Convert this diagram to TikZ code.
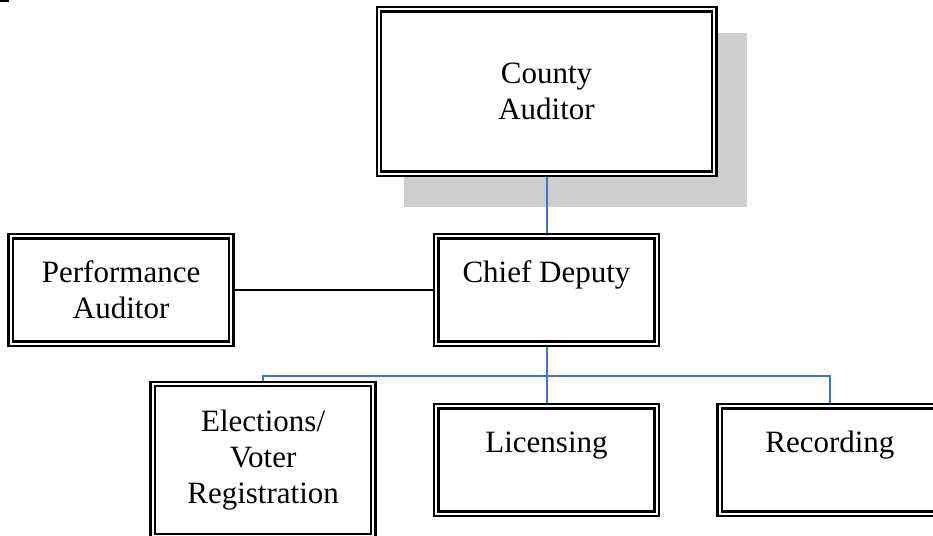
\documentclass[tikz,border=0pt]{standalone}
\usepackage{fontspec}
\setmainfont{Liberation Serif}
\usepackage{xcolor}
\usepackage{tikz}
\usetikzlibrary{positioning,backgrounds}

\definecolor{linkblue}{HTML}{4472C4}
\definecolor{shadowgray}{HTML}{CECECE}
\newcommand{\unitfont}{\fontsize{31}{36}\selectfont}

\begin{document}
\begin{tikzpicture}[
    x=1pt, y=-1pt,
    node distance=62.8pt,
    unit/.style={rectangle, draw, double, double distance=2pt, line width=2.4pt, fill=white, outer sep=0pt, inner sep=0pt, align=center, minimum width=220.6pt, minimum height=107.2pt, font=\unitfont},
    link/.style={draw=linkblue, line width=2pt},
]
\useasboundingbox (0,0) rectangle (933,535);
\clip (0,0) rectangle (933,535);

\fill (0,0) rectangle (9,2);

\node[unit] (deputy) at (546.5,290) {Chief Deputy\\~};
\node[unit, minimum width=335.2pt, minimum height=164.2pt, above=of deputy] (auditor) {County\\Auditor};
\node[unit, left=204.8pt of deputy] (perf) {Performance\\Auditor};
\node[unit, below=of deputy] (licensing) {Licensing\\~};
\node[unit, right=of licensing] (recording) {Recording\\~};
\node[unit, minimum height=152.2pt, left=of licensing] (elections) {Elections/\\Voter\\Registration};

% Shadow and lines
\begin{scope}[on background layer]
\fill[shadowgray] ([shift={(24.6,23.6)}]auditor.north west) rectangle ([shift={(32.4,33.4)}]auditor.south east);
\draw[line width=2.4pt] (perf) -- (deputy);
\draw[link] (auditor) -- (deputy);
\draw[link] (deputy.south) -- ++(0,32.4) coordinate (bus);
\draw[link] (bus) -| (elections.north);
\draw[link] (bus) -- (licensing.north);
\draw[link] (bus) -| (recording.north);
\end{scope}

\end{tikzpicture}
\end{document}
